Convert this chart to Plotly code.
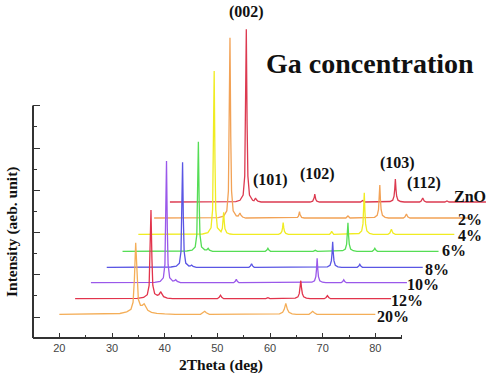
import plotly.graph_objects as go

# ---------------- data ----------------
samples = ["ZnO", "2%", "4%", "6%", "8%", "10%", "12%", "20%"]
x_offsets = [21, 18, 15, 12, 9, 6, 3, 0]           # waterfall shift in 2theta (deg)
y_offsets = [115, 99, 82.7, 65.7, 49.7, 34.3, 18.3, 2.7]  # waterfall shift in intensity (a.u.)
colors = ["#dc3a50", "#f2a256", "#f0ec22", "#55dd55", "#5a56e4", "#9a58ea", "#e2344c", "#f4ae58"]

zno_x = [20, 32.5, 33.3, 33.9, 34.2, 34.35, 34.5, 34.65, 34.8, 35.1, 35.7,
         35.95, 36.1, 36.25, 36.4, 36.7, 37.3,
         46.6, 47.1, 47.3, 47.4, 47.5, 47.6, 47.7, 47.9, 48.4,
         56.2, 56.6, 57.0,
         61.8, 62.3, 62.55, 62.68, 62.8, 62.92, 63.05, 63.3, 63.8, 64.5,
         67.4, 67.7, 67.85, 68.0, 68.15, 68.3, 68.7,
         72.2, 72.6, 73.0, 80]
zno_y = [0, 0.3, 1.7, 6.9, 25.9, 77.7, 172.7, 77.7, 25.9, 6.9, 1.7,
         1.2, 2.5, 4, 2.5, 0.8, 0,
         0, 0.8, 2.4, 4.5, 8, 4.5, 2.4, 0.8, 0,
         0, 1.5, 0,
         0.5, 1.8, 5.8, 12.6, 23, 12.6, 5.8, 1.8, 0.5, 0,
         0, 1, 2.4, 4, 2.4, 1, 0,
         0, 1, 0, 0]

s2_x = [20, 32.2, 33.2, 33.8, 34.1, 34.25, 34.4, 34.55, 34.7, 35.0, 35.6,
        35.95, 36.15, 36.3, 36.45, 36.8, 37.4,
        46.7, 47.2, 47.4, 47.5, 47.6, 47.7, 47.8, 48.0, 48.5,
        56.4, 56.8, 57.2,
        61.85, 62.35, 62.6, 62.73, 62.85, 62.97, 63.1, 63.35, 63.85, 64.5,
        67.3, 67.6, 67.75, 67.9, 68.05, 68.2, 68.6, 80]
s2_y = [0, 0.3, 1.8, 7.2, 27, 81, 180.3, 81, 27, 7.2, 2.2,
        2, 3.5, 5, 3, 1, 0,
        0, 0.6, 1.9, 3.5, 6.3, 3.5, 1.9, 0.6, 0,
        0, 2, 0,
        0.7, 2.6, 8.3, 18, 33, 18, 8.3, 2.6, 0.7, 0,
        0, 1, 2.4, 4, 2.4, 1, 0, 0]

s4_x = [20, 32.2, 33.2, 33.8, 34.1, 34.25, 34.4, 34.55, 34.7, 35.0, 35.5,
        35.7, 35.95, 36.08, 36.2, 36.32, 36.45, 36.8, 37.4, 38.0,
        46.6, 47.0, 47.25, 47.38, 47.5, 47.62, 47.75, 48.0, 48.5,
        56.3, 56.55, 56.7, 56.85, 57.1,
        61.9, 62.4, 62.65, 62.78, 62.9, 63.02, 63.15, 63.4, 63.9, 64.6,
        67.4, 67.75, 67.9, 68.05, 68.2, 68.35, 68.8, 80]
s4_y = [0, 0.3, 1.6, 6.5, 24.5, 73.5, 163.3, 73.5, 24.5, 6.5, 3,
        2.5, 6, 12, 22, 12, 5.5, 1.5, 0.3, 0,
        0, 0.9, 2.9, 6.4, 11.6, 6.4, 2.9, 0.9, 0,
        0, 1.2, 3, 1.2, 0,
        0.8, 3.3, 10.4, 23, 41.6, 23, 10.4, 3.3, 0.8, 0,
        0, 1.2, 3, 5, 3, 1.2, 0, 0]

s6_x = [20, 32.2, 33.2, 33.8, 34.1, 34.25, 34.4, 34.55, 34.7, 35.0, 35.6,
        36.0, 36.26, 36.5, 37.1,
        47.1, 47.4, 47.6, 47.8, 48.1,
        56.2, 56.6, 57.0,
        61.8, 62.3, 62.55, 62.68, 62.8, 62.92, 63.05, 63.3, 63.8, 64.5,
        67.4, 67.7, 67.9, 68.1, 68.4, 80]
s6_y = [0, 0.3, 1.1, 4.4, 16.4, 49.3, 109.6, 49.3, 16.4, 4.4, 1.5,
        1.5, 3, 1.2, 0,
        0, 1.2, 3, 1.2, 0,
        0, 1, 0,
        0.6, 2.3, 7.2, 15.7, 28.6, 15.7, 7.2, 2.3, 0.6, 0,
        0, 1.2, 3, 1.2, 0, 0]

s8_x = [20, 32.2, 33.2, 33.8, 34.1, 34.25, 34.4, 34.55, 34.7, 35.0, 35.6,
        35.9, 36.1, 36.4, 37.0,
        47.0, 47.3, 47.5, 47.7, 48.0,
        61.9, 62.4, 62.65, 62.78, 62.9, 63.02, 63.15, 63.4, 63.9, 64.6,
        67.55, 67.85, 68.05, 68.25, 68.55, 80]
s8_y = [0, 0.3, 1.1, 4.2, 15.8, 47.3, 105, 47.3, 15.8, 4.2, 1.3,
        1.4, 2.2, 1, 0,
        0, 1.4, 3.5, 1.4, 0,
        0.5, 2, 6.4, 14, 25.6, 14, 6.4, 2, 0.5, 0,
        0, 1.2, 3, 1.2, 0, 0]

s10_x = [20, 32.1, 33.15, 33.75, 34.05, 34.2, 34.35, 34.5, 34.65, 34.95, 35.55,
         35.85, 36.1, 36.4, 37.0,
         47.1, 47.4, 47.6, 47.8, 48.1,
         61.95, 62.45, 62.7, 62.83, 62.95, 63.07, 63.2, 63.45, 63.95, 64.6,
         67.5, 67.8, 68.0, 68.2, 68.5, 80]
s10_y = [0, 0.3, 1.2, 4.9, 18.3, 54.8, 121.7, 54.8, 18.3, 4.9, 1.6,
         2, 3, 1.3, 0,
         0, 1.4, 3.5, 1.4, 0,
         0.5, 2, 6.1, 13.4, 24.4, 13.4, 6.1, 2, 0.5, 0,
         0, 1.2, 3, 1.2, 0, 0]

s12_x = [20, 31.8, 33.0, 33.7, 34.05, 34.22, 34.4, 34.58, 34.75, 35.1, 35.6,
         35.9, 36.1, 36.27, 36.45, 36.8, 37.5, 38.5,
         47.0, 47.35, 47.6, 47.85, 48.2,
         56.2, 56.6, 57.0,
         61.8, 62.3, 62.55, 62.7, 62.85, 63.0, 63.15, 63.4, 63.9, 64.6,
         67.3, 67.65, 67.9, 68.15, 68.5, 80]
s12_y = [0, 0.3, 1.2, 4, 13.3, 40, 88.7, 40, 13.3, 5, 3.5,
         4, 5.5, 7, 5, 2, 0.6, 0,
         0, 1.4, 3.5, 1.4, 0,
         0, 1, 0,
         0.5, 1.8, 5, 10, 18, 10, 5, 1.8, 0.5, 0,
         0, 1.2, 3, 1.2, 0, 0]

s20_x = [20, 30.0, 31.5, 32.8, 33.6, 34.0, 34.25, 34.5, 34.75, 35.0, 35.4, 35.75,
         36.1, 36.4, 36.8, 37.5, 38.5, 40.0, 42.0,
         46.8, 47.3, 47.6, 47.9, 48.5,
         61.8, 62.4, 62.7, 62.85, 63.0, 63.15, 63.3, 63.6, 64.2, 65.0,
         67.4, 67.8, 68.1, 68.4, 68.9, 80]
s20_y = [0, 0.2, 0.8, 2.5, 5, 12, 35, 71.6, 35, 15, 9, 9,
         10.5, 7.5, 4, 2, 1, 0.4, 0,
         0, 1.5, 3, 1.5, 0,
         0.4, 2, 5, 8, 11, 8, 5, 2, 0.5, 0,
         0, 1.5, 3, 1.5, 0, 0]

curves_x = [zno_x, s2_x, s4_x, s6_x, s8_x, s10_x, s12_x, s20_x]
curves_y = [zno_y, s2_y, s4_y, s6_y, s8_y, s10_y, s12_y, s20_y]

x_ticks = [20, 30, 40, 50, 60, 70, 80]
x_minor = [15, 25, 35, 45, 55, 65, 75, 85]
y_ticks = [0, 42.25, 84.5, 126.75, 169, 211.25]
y_minor = [21.1, 63.4, 105.6, 147.9, 190.1]

peak_labels = ["(002)", "(101)", "(102)", "(103)", "(112)"]
peak_label_x = [55.57, 60.13, 68.98, 84.17, 89.24]
peak_label_y = [305, 137, 142.7, 154.3, 133.7]

sample_label_x = [97.97, 97.95, 97.97, 94.97, 91.7, 89.0, 86.07, 83.4]
sample_label_y = [120.3, 97.7, 82, 66.3, 48, 33, 17, 1]

# ---------------- figure ----------------
fig = go.Figure()
for name, xs, ys, dx, dy, c in zip(samples, curves_x, curves_y, x_offsets, y_offsets, colors):
    fig.add_trace(go.Scatter(
        x=[v + dx for v in xs], y=[v + dy for v in ys],
        mode="lines", name=name, line=dict(color=c, width=1.3),
        hoverinfo="skip"))

serif = "Liberation Serif, Times New Roman, serif"
ann = []
for t, x, y in zip(peak_labels, peak_label_x, peak_label_y):
    ann.append(dict(x=x, y=y, xref="x", yref="y", text="<b>%s</b>" % t, showarrow=False,
                    xanchor="center", yanchor="middle",
                    font=dict(family=serif, size=16, color="#111")))
for t, x, y in zip(samples, sample_label_x, sample_label_y):
    ann.append(dict(x=x, y=y, xref="x", yref="y", text="<b>%s</b>" % t, showarrow=False,
                    xanchor="center", yanchor="middle",
                    font=dict(family=serif, size=16, color="#111")))
ann.append(dict(x=78.98, y=253.7, xref="x", yref="y", text="<b>Ga concentration</b>",
                showarrow=False, xanchor="center", yanchor="middle",
                font=dict(family=serif, size=28, color="#111")))
ann.append(dict(x=50.7, y=0, xref="x", yref="paper", yshift=-27, text="<b>2Theta (deg)</b>",
                showarrow=False, xanchor="center", yanchor="middle",
                font=dict(family=serif, size=15.5, color="#111")))
ann.append(dict(x=0, y=85, xref="paper", yref="y", xshift=-21, textangle=-90,
                text="<b>Intensity (aeb. unit)</b>", showarrow=False,
                xanchor="center", yanchor="middle",
                font=dict(family=serif, size=15.5, color="#111")))

axis_col = "#333333"
shapes = [
    dict(type="line", xref="x", yref="paper", x0=15, x1=85.06, y0=0, y1=0,
         line=dict(color=axis_col, width=2)),
    dict(type="line", xref="paper", yref="y", x0=0, x1=0, y0=-21, y1=211.6,
         line=dict(color=axis_col, width=2)),
]

fig.update_layout(
    width=490, height=375,
    margin=dict(l=33, r=0, t=0, b=37),
    paper_bgcolor="white", plot_bgcolor="white",
    showlegend=False,
    annotations=ann, shapes=shapes,
    xaxis=dict(range=[15, 101.77], showgrid=False, zeroline=False, showline=False,
               tickmode="array", tickvals=x_ticks, ticks="inside", ticklen=5, tickwidth=1.3,
               tickcolor=axis_col, ticklabelstandoff=2,
               tickfont=dict(family="Liberation Sans, Arial, sans-serif", size=11, color="#444"),
               minor=dict(tickvals=x_minor, ticks="inside", ticklen=3, tickwidth=1.3,
                          tickcolor=axis_col, showgrid=False)),
    yaxis=dict(range=[-21, 317], showgrid=False, zeroline=False, showline=False,
               showticklabels=False, tickmode="array", tickvals=y_ticks, ticks="inside",
               ticklen=7, tickwidth=1.3, tickcolor=axis_col,
               minor=dict(tickvals=y_minor, ticks="inside", ticklen=4, tickwidth=1.3,
                          tickcolor=axis_col, showgrid=False)),
)

fig.write_html("out.html")
